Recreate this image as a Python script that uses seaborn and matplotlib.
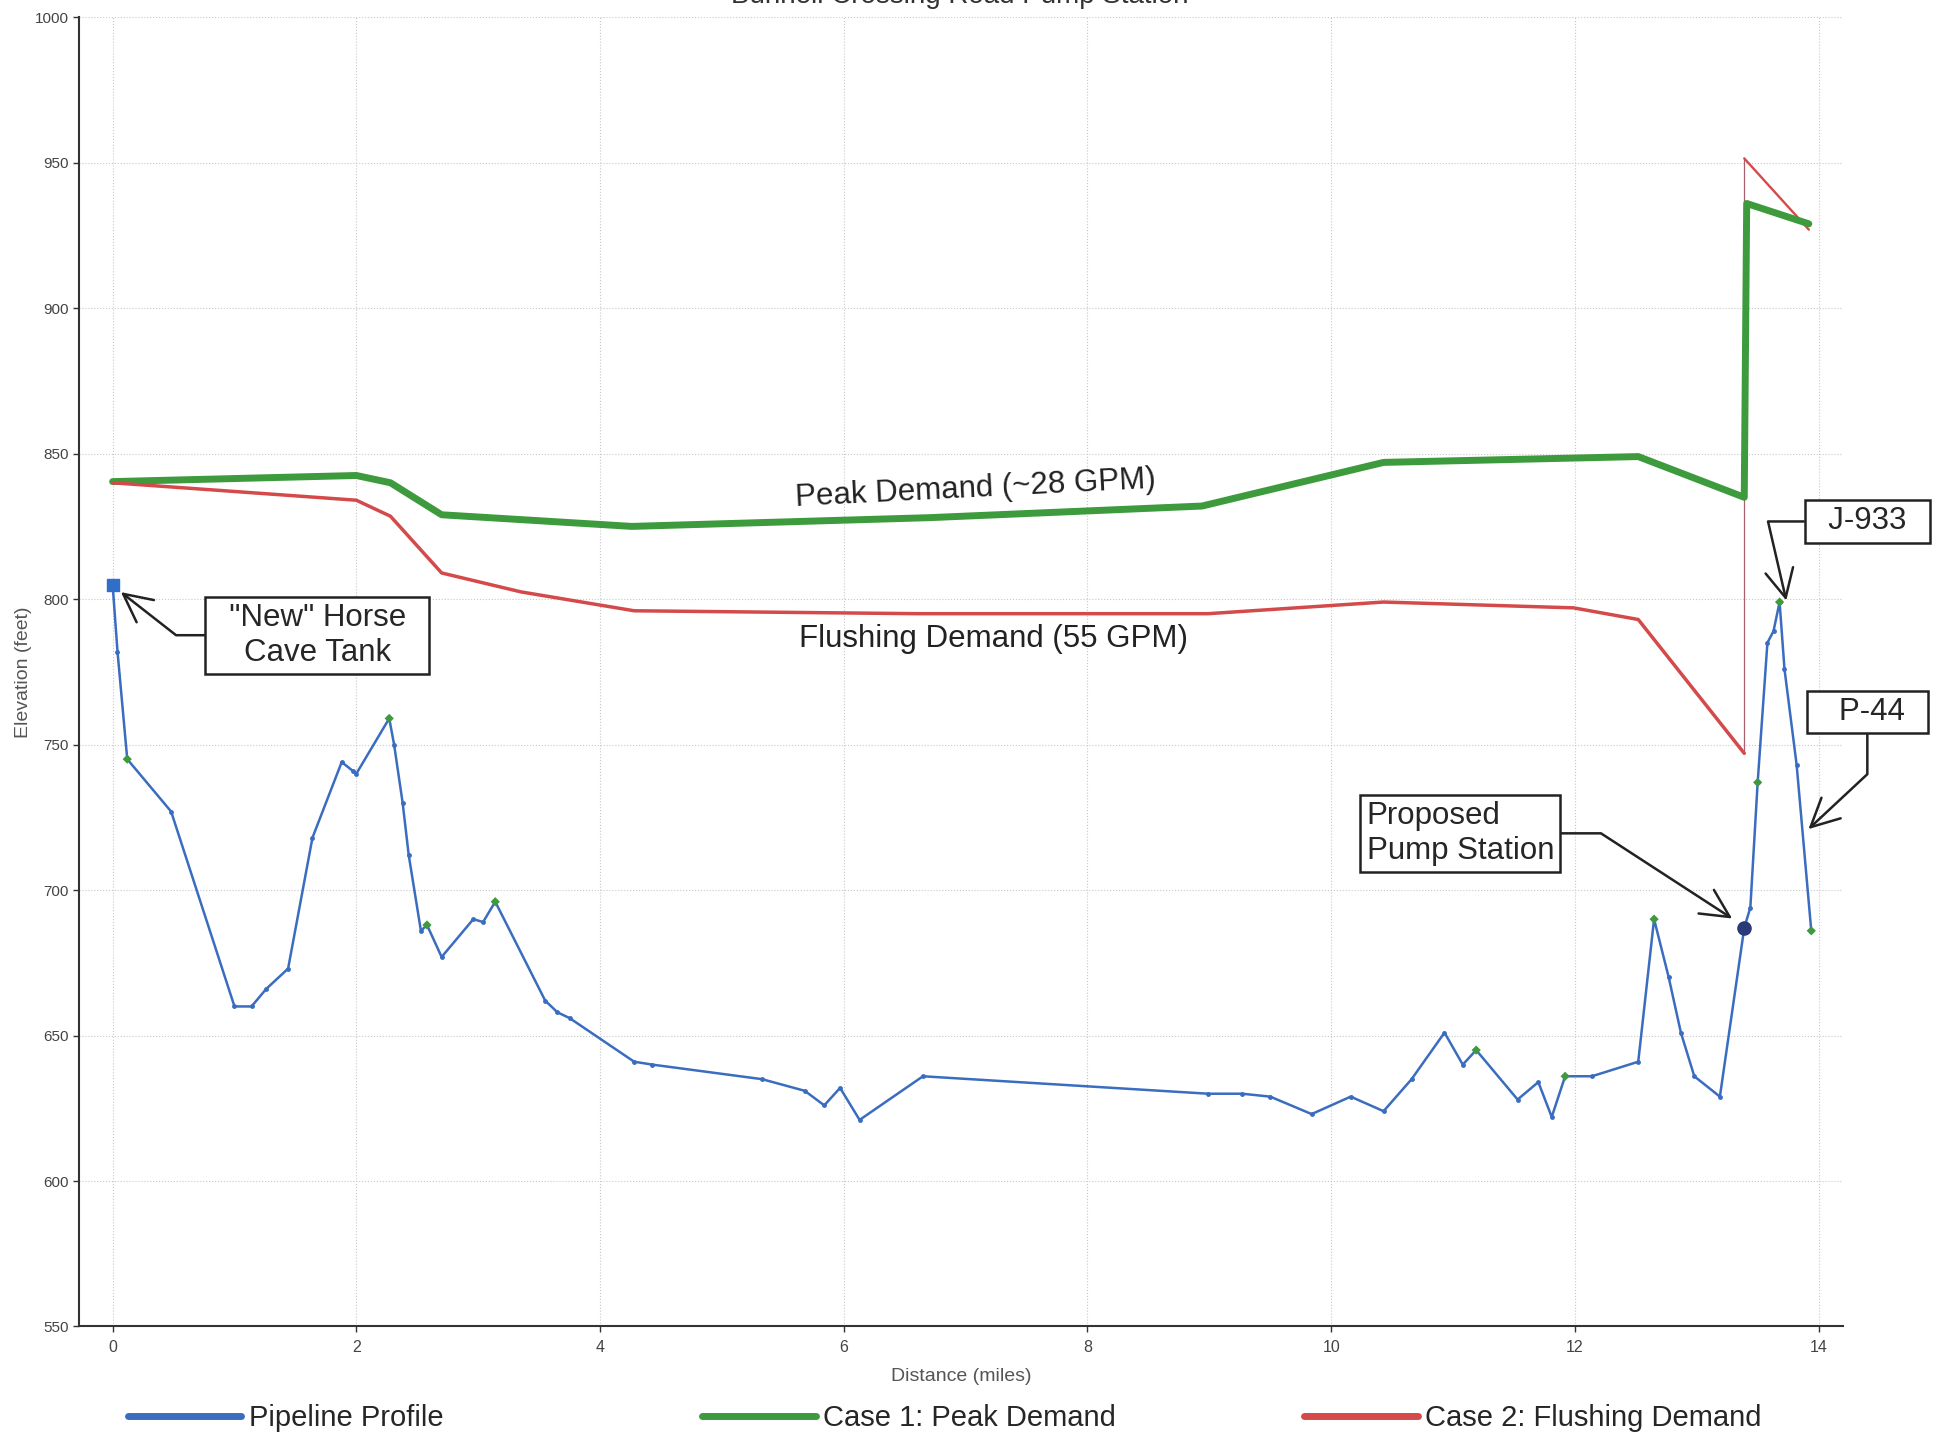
import pandas as pd
import numpy as np
import seaborn as sns
import matplotlib.pyplot as plt

# pipeline ground profile (miles, feet)
profile_dist = [0.0, 0.04, 0.12, 0.48, 1.0, 1.14, 1.26, 1.44, 1.64, 1.88, 1.97, 2.0,
                2.27, 2.31, 2.38, 2.43, 2.53, 2.58, 2.70, 2.96, 3.04, 3.14, 3.55, 3.65,
                3.75, 4.28, 4.43, 5.33, 5.68, 5.84, 5.97, 6.13, 6.65, 8.99, 9.27, 9.50,
                9.84, 10.16, 10.43, 10.66, 10.93, 11.08, 11.19, 11.53, 11.70, 11.81, 11.92,
                12.14, 12.52, 12.65, 12.77, 12.87, 12.98, 13.19, 13.39, 13.44, 13.50, 13.58,
                13.63, 13.68, 13.72, 13.82, 13.94]
profile_elev = [805, 782, 745, 727, 660, 660, 666, 673, 718, 744, 741, 740,
                759, 750, 730, 712, 686, 688, 677, 690, 689, 696, 662, 658,
                656, 641, 640, 635, 631, 626, 632, 621, 636, 630, 630, 629,
                623, 629, 624, 635, 651, 640, 645, 628, 634, 622, 636,
                636, 641, 690, 670, 651, 636, 629, 687, 694, 737, 785,
                789, 799, 776, 743, 686]
junction_idx = [2, 12, 17, 21, 42, 46, 49, 56, 59, 62]

# hydraulic grade lines
peak_dist = [0.0, 2.0, 2.28, 2.70, 4.26, 6.70, 8.94, 10.43, 12.52, 13.39, 13.41, 13.92]
peak_hgl = [840.4, 842.5, 840, 829, 825, 828, 832, 847, 849, 835, 936, 929]

flush_dist = [0.0, 2.0, 2.28, 2.70, 3.35, 4.28, 6.60, 8.99, 10.43, 11.99, 12.52, 13.39]
flush_hgl = [840, 834, 828.5, 809, 802.5, 796, 795, 795, 799, 797, 793, 747]
# downstream of the pump the flushing grade jumps up
flush_riser_dist = [13.39, 13.39]
flush_riser_hgl = [747, 951.5]
flush_top_dist = [13.39, 13.92]
flush_top_hgl = [951.5, 927]

tank = (0.0, 805)
pump = (13.39, 687)

blue = "#3a6cc0"
green = "#3d9a3d"
red = "#d44a4a"

sns.set_style("whitegrid", {"grid.linestyle": ":", "grid.color": "#c8c8c8",
                            "axes.edgecolor": "#333333"})
plt.rcParams["font.family"] = ["Liberation Sans", "DejaVu Sans"]

profile = pd.DataFrame({"dist": profile_dist, "elev": profile_elev})
peak = pd.DataFrame({"dist": peak_dist, "elev": peak_hgl})
flush = pd.DataFrame({"dist": flush_dist, "elev": flush_hgl})
riser = pd.DataFrame({"dist": flush_riser_dist, "elev": flush_riser_hgl})
flush_top = pd.DataFrame({"dist": flush_top_dist, "elev": flush_top_hgl})

fig = plt.figure(figsize=(19.42, 14.39), dpi=100)
ax = fig.add_axes([0.0408, 0.0782, 0.9082, 0.9098])

sns.lineplot(data=profile, x="dist", y="elev", sort=False, estimator=None, ax=ax,
             color=blue, lw=1.8, marker="o", markersize=3.5, markeredgewidth=0,
             label="Pipeline Profile", zorder=3)
sns.lineplot(data=peak, x="dist", y="elev", sort=False, estimator=None, ax=ax,
             color=green, lw=5, label="Case 1: Peak Demand", zorder=2)
sns.lineplot(data=flush, x="dist", y="elev", sort=False, estimator=None, ax=ax,
             color=red, lw=2.5, label="Case 2: Flushing Demand", zorder=2)
sns.lineplot(data=riser, x="dist", y="elev", sort=False, estimator=None, ax=ax,
             color="#a8606a", lw=0.9, zorder=1)
sns.lineplot(data=flush_top, x="dist", y="elev", sort=False, estimator=None, ax=ax,
             color=red, lw=1.7, zorder=1)

sns.scatterplot(data=profile.iloc[junction_idx], x="dist", y="elev", ax=ax,
                marker="D", s=22, color=green, edgecolor="none", zorder=4, legend=False)
ax.scatter([tank[0]], [tank[1]], marker="s", s=80, color="#2f6fc8", zorder=5)
ax.scatter([pump[0]], [pump[1]], marker="o", s=90, color="#2a3a78", zorder=5)

ax.set_xlim(-0.274, 14.2)
ax.set_ylim(550, 1000)
ax.set_xticks(np.arange(0, 15, 2))
ax.set_yticks(np.arange(550, 1001, 50))
ax.tick_params(axis="y", left=True, labelsize=11, labelcolor="#444444",
               color="#333333", length=4, width=1)
ax.tick_params(axis="x", bottom=True, labelsize=11.5, labelcolor="#444444",
               color="#333333", length=4, width=1, pad=6)
ax.set_xlabel("Distance (miles)", fontsize=14, color="#555555", labelpad=9)
ax.set_ylabel("Elevation (feet)", fontsize=14, color="#555555", labelpad=2)
for s in ["top", "right"]:
    ax.spines[s].set_visible(False)
for s in ["left", "bottom"]:
    ax.spines[s].set_linewidth(1.5)

# curve labels
ax.text(7.08, 837.8, "Peak Demand (~28 GPM)", fontsize=22.5, ha="center", va="center",
        rotation=2.9, color="#222222")
ax.text(7.23, 786.3, "Flushing Demand (55 GPM)", fontsize=22.5, ha="center", va="center",
        color="#222222")

box = dict(boxstyle="square,pad=0.2", fc="white", ec="#222222", lw=1.8)
arrow = dict(arrowstyle="->,head_length=0.9,head_width=0.45", color="#222222", lw=1.8,
             shrinkA=0, shrinkB=2)

ax.annotate('  "New" Horse  \nCave Tank', xy=(0.05, 803), xytext=(1.68, 787.6),
            fontsize=22.5, ha="center", va="center", multialignment="center", bbox=box,
            arrowprops=dict(arrow, connectionstyle="angle,angleA=0,angleB=-38,rad=0"),
            zorder=6)
ax.annotate("Proposed\nPump Station", xy=(13.31, 689.7), xytext=(10.29, 719.5),
            fontsize=22.5, ha="left", va="center", bbox=box,
            arrowprops=dict(arrow, connectionstyle="angle,angleA=0,angleB=-33,rad=0"),
            zorder=6)
ax.annotate("  J-933  ", xy=(13.74, 798.6), xytext=(14.40, 826.7),
            fontsize=22.5, ha="center", va="center", bbox=box, annotation_clip=False,
            arrowprops=dict(arrow, connectionstyle="angle,angleA=0,angleB=103,rad=0"),
            zorder=6)
ax.annotate("   P-44  ", xy=(13.90, 720.3), xytext=(14.40, 761.2),
            fontsize=22.5, ha="center", va="center", bbox=box, annotation_clip=False,
            arrowprops=dict(arrow, connectionstyle="angle,angleA=90,angleB=43,rad=0"),
            zorder=6)

ax.get_legend().remove()
handles, labels = ax.get_legend_handles_labels()
legend_x = [0.0657, 0.3615, 0.6715]
for h, lab, lx in zip(handles[:3], labels[:3], legend_x):
    leg = fig.legend([h], [lab], loc="center left", bbox_to_anchor=(lx, 0.0146),
                     frameon=False, fontsize=21, handlelength=3.9, handletextpad=0.25,
                     borderpad=0, borderaxespad=0)
    for line in leg.get_lines():
        line.set_linewidth(5)
        line.set_marker("")

fig.text(0.494, 0.998, "Bunnell Crossing Road Pump Station", ha="center",
         va="baseline", fontsize=20, color="#333333")

fig.savefig("out.png", dpi=100)
